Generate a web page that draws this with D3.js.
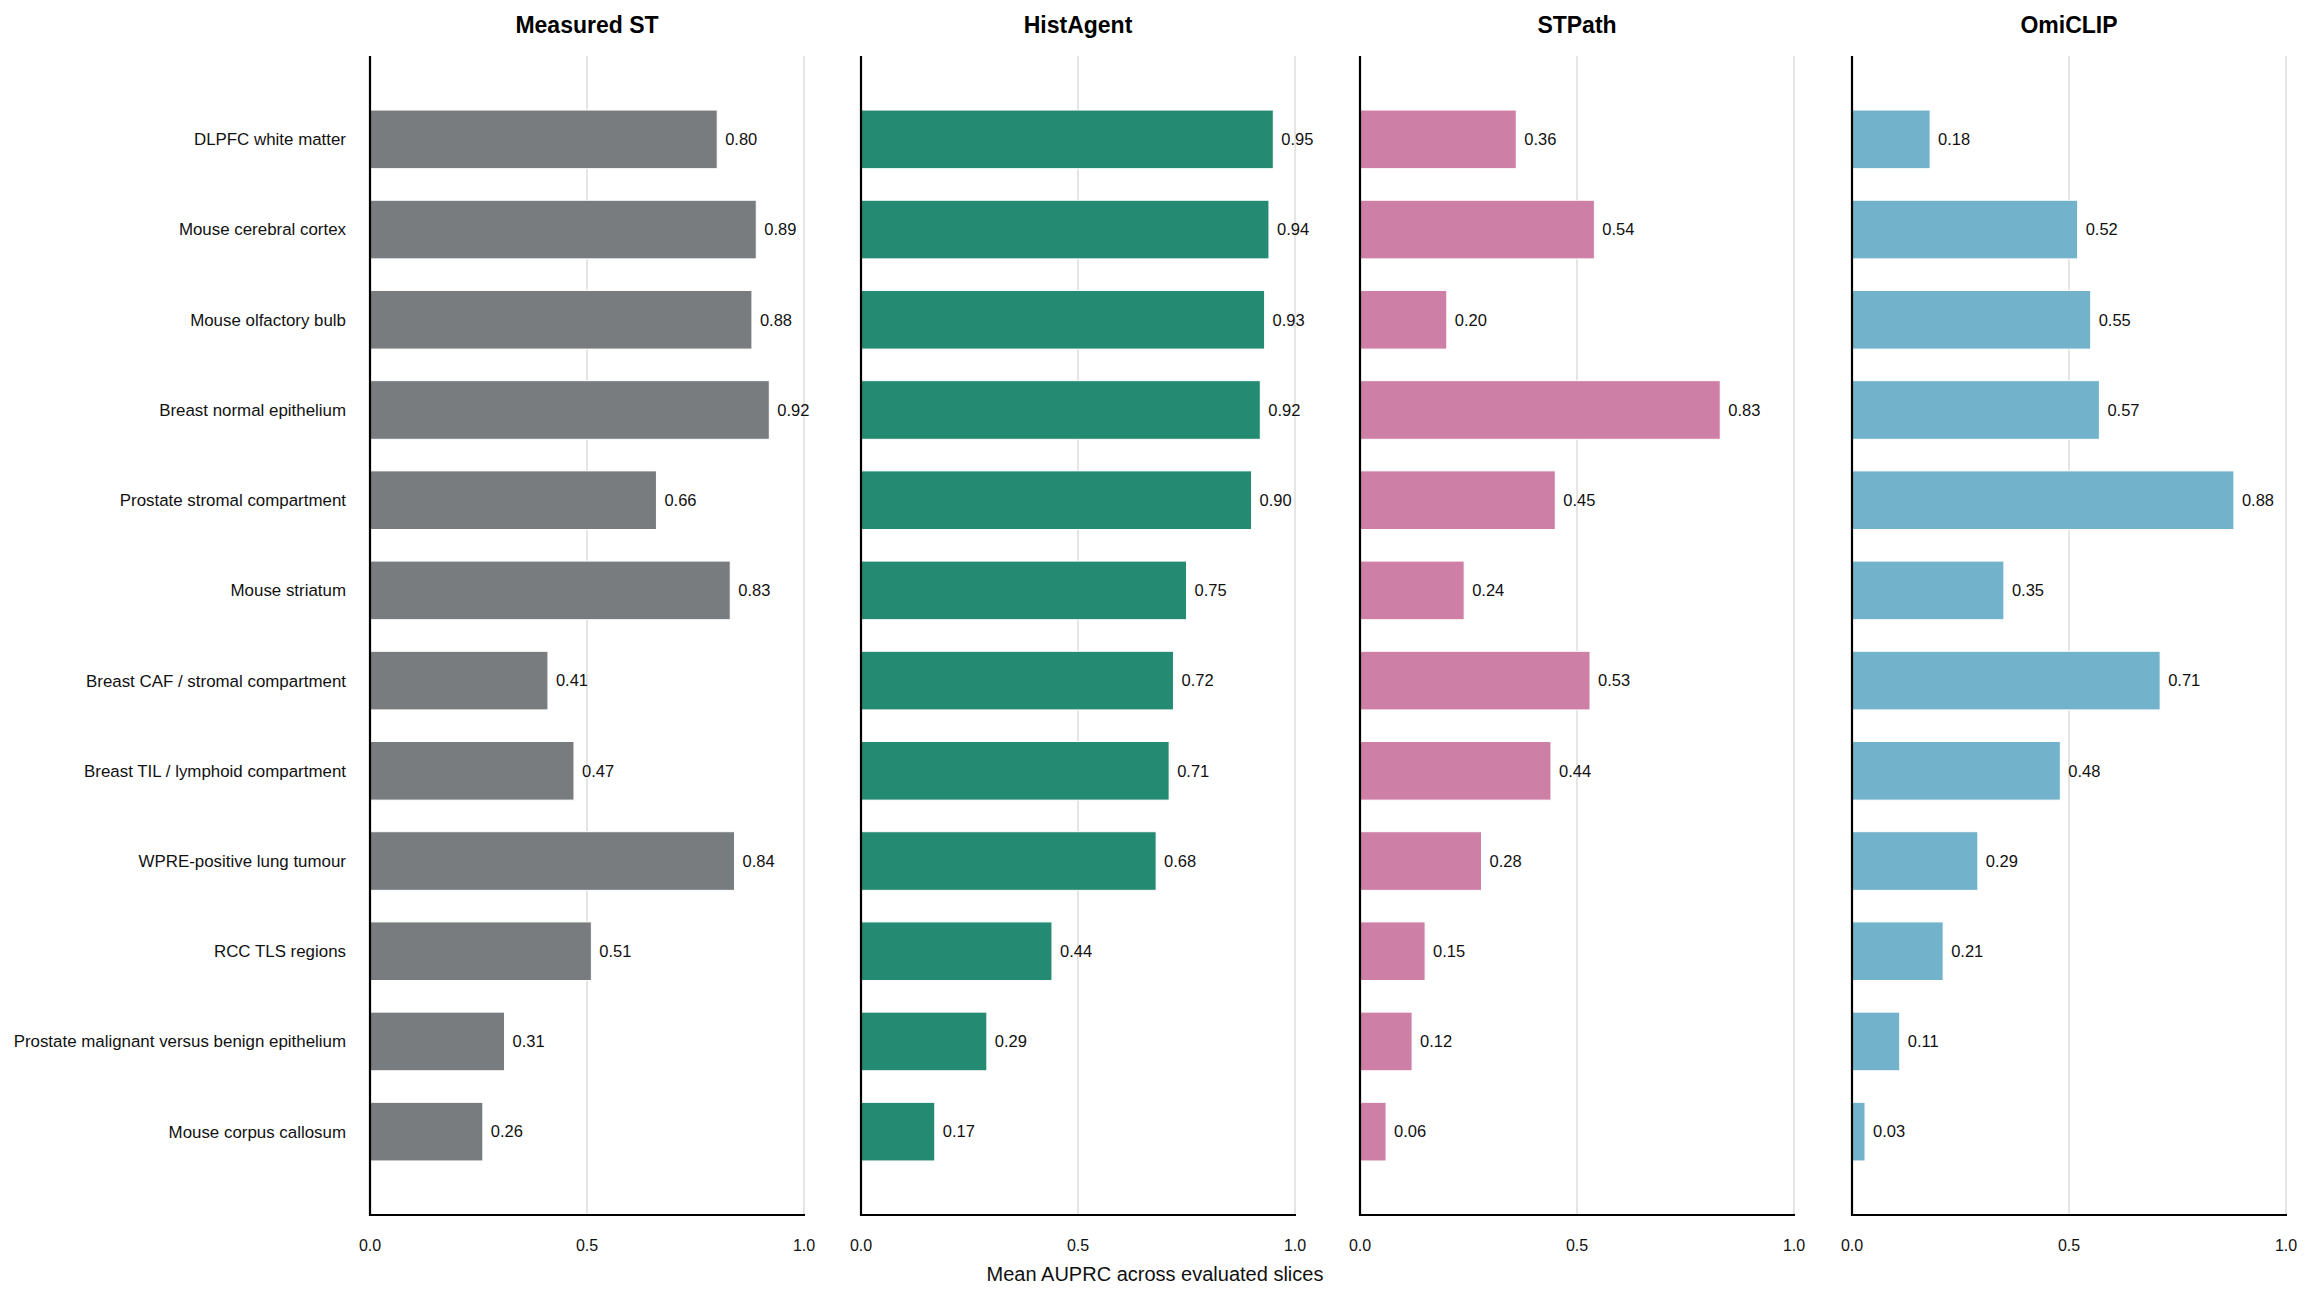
<!DOCTYPE html>
<html>
<head>
<meta charset="utf-8">
<script src="https://cdn.jsdelivr.net/npm/d3@7/dist/d3.min.js"></script>
<style>
  html, body { margin: 0; padding: 0; background: #fff; }
  svg { display: block; font-family: "Liberation Sans", Arial, sans-serif; }
</style>
</head>
<body>
<svg id="chart" width="2310" height="1298"></svg>
<script>
const categories = [
  "DLPFC white matter",
  "Mouse cerebral cortex",
  "Mouse olfactory bulb",
  "Breast normal epithelium",
  "Prostate stromal compartment",
  "Mouse striatum",
  "Breast CAF / stromal compartment",
  "Breast TIL / lymphoid compartment",
  "WPRE-positive lung tumour",
  "RCC TLS regions",
  "Prostate malignant versus benign epithelium",
  "Mouse corpus callosum"
];
const methods = ["Measured ST", "HistAgent", "STPath", "OmiCLIP"];
const measuredST = [0.80, 0.89, 0.88, 0.92, 0.66, 0.83, 0.41, 0.47, 0.84, 0.51, 0.31, 0.26];
const histAgent  = [0.95, 0.94, 0.93, 0.92, 0.90, 0.75, 0.72, 0.71, 0.68, 0.44, 0.29, 0.17];
const stPath     = [0.36, 0.54, 0.20, 0.83, 0.45, 0.24, 0.53, 0.44, 0.28, 0.15, 0.12, 0.06];
const omiCLIP    = [0.18, 0.52, 0.55, 0.57, 0.88, 0.35, 0.71, 0.48, 0.29, 0.21, 0.11, 0.03];
const xTicks = [0.0, 0.5, 1.0];
const colors = ["#787c7f", "#258a72", "#cd7fa5", "#72b2cb"];
const seriesValues = [measuredST, histAgent, stPath, omiCLIP];

const svg = d3.select("#chart");
const panelLefts = [370, 861, 1360, 1852];
const panelWidth = 434;
const plotTop = 56, plotBottom = 1215;

const y = d3.scaleLinear().domain([-0.924, categories.length - 1 + 0.924]).range([plotTop, plotBottom]);
const barH = y(0.65) - y(0);

methods.forEach((m, pi) => {
  const x0 = panelLefts[pi];
  const x = d3.scaleLinear().domain([0, 1]).range([x0, x0 + panelWidth]);
  const g = svg.append("g");

  g.selectAll("line.grid").data([0.5, 1.0]).enter().append("line")
    .attr("x1", d => x(d)).attr("x2", d => x(d))
    .attr("y1", plotTop).attr("y2", plotBottom)
    .attr("stroke", "#dddddd").attr("stroke-width", 1.5);

  const vals = seriesValues[pi];
  g.selectAll("rect.bar").data(vals).enter().append("rect")
    .attr("x", x(0))
    .attr("y", (d, i) => y(i) - barH / 2)
    .attr("width", d => x(d) - x(0))
    .attr("height", barH)
    .attr("fill", colors[pi])
    .attr("stroke", "#ffffff").attr("stroke-width", 1);

  g.selectAll("text.val").data(vals).enter().append("text")
    .attr("x", d => x(d) + 8)
    .attr("y", (d, i) => y(i))
    .attr("dy", "0.35em")
    .attr("font-size", 16.5)
    .attr("fill", "#111")
    .text(d => d.toFixed(2));

  g.append("line").attr("x1", x(0)).attr("x2", x(0)).attr("y1", plotTop).attr("y2", plotBottom + 1)
    .attr("stroke", "#000").attr("stroke-width", 2.2);
  g.append("line").attr("x1", x(0) - 1).attr("x2", x(1) + 1).attr("y1", plotBottom).attr("y2", plotBottom)
    .attr("stroke", "#000").attr("stroke-width", 2.2);

  g.selectAll("text.tick").data(xTicks).enter().append("text")
    .attr("x", d => x(d)).attr("y", 1245).attr("dy", "0.35em")
    .attr("text-anchor", "middle").attr("font-size", 16).attr("fill", "#111")
    .text(d => d3.format(".1f")(d));

  g.append("text").attr("x", x(0.5)).attr("y", 33)
    .attr("text-anchor", "middle").attr("font-size", 23).attr("font-weight", "bold")
    .attr("fill", "#000").text(m);

  if (pi === 0) {
    g.selectAll("text.cat").data(categories).enter().append("text")
      .attr("x", x(0) - 24)
      .attr("y", (d, i) => y(i))
      .attr("dy", "0.35em")
      .attr("text-anchor", "end").attr("font-size", 16.9).attr("fill", "#111")
      .text(d => d);
  }
});

svg.append("text").attr("x", 1155).attr("y", 1274).attr("dy", "0.35em")
  .attr("text-anchor", "middle").attr("font-size", 20).attr("fill", "#111")
  .text("Mean AUPRC across evaluated slices");
</script>
</body>
</html>
